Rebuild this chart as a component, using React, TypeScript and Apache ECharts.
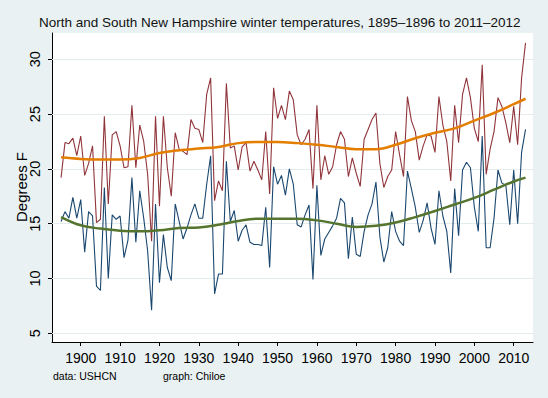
import React, { useEffect, useRef } from "react";
import * as echarts from "echarts";

const titleText = "North and South New Hampshire winter temperatures, 1895\u20131896 to 2011\u20132012";
const yAxisTitle = "Degrees F";
const noteData = "data: USHCN";
const noteGraph = "graph: Chiloe";

const firstYear = 1895;

// South NH winter mean temperature (deg F), 1895..2013
const southTemps = [
  19.2, 22.4, 22.3, 22.8, 21.2, 23.0, 19.4, 20.5, 22.1, 15.1,
  15.4, 24.8, 16.8, 23.1, 23.4, 22.1, 20.1, 20.2, 25.8, 20.1,
  24.0, 22.5, 19.5, 13.4, 24.8, 16.6, 24.8, 20.1, 17.5, 23.3,
  21.8, 21.6, 21.3, 24.5, 23.7, 23.6, 22.4, 26.8, 28.3, 17.1,
  18.9, 18.0, 27.8, 21.9, 22.1, 19.9, 22.0, 22.4, 19.8, 20.7,
  19.9, 19.0, 23.4, 17.7, 27.4, 24.6, 25.8, 24.5, 27.1, 26.3,
  23.1, 22.2, 22.7, 23.6, 18.2, 25.8, 19.0, 21.2, 19.5, 20.2,
  22.2, 23.4, 22.7, 19.3, 21.0, 19.6, 18.4, 22.7, 23.6, 24.5,
  25.1, 20.5, 18.3, 19.3, 19.9, 23.4, 21.3, 19.3, 26.6, 24.4,
  23.4, 20.8, 22.1, 23.1, 23.0, 21.5, 26.6, 24.0, 22.5, 18.9,
  25.8, 22.4, 26.8, 28.3, 26.5, 23.7, 22.5, 29.5, 19.5, 21.8,
  23.4, 26.5, 25.7, 24.2, 22.4, 25.7, 22.2, 28.3, 31.5,
];

// North NH winter mean temperature (deg F), 1895..2013
const northTemps = [
  15.2, 16.1, 15.5, 17.4, 15.5, 17.2, 12.4, 16.1, 15.7, 9.3,
  8.9, 18.3, 10.0, 15.8, 15.4, 15.7, 11.9, 13.5, 19.2, 13.3,
  18.0, 15.5, 12.5, 7.1, 16.8, 9.6, 14.0, 11.0, 9.8, 16.8,
  15.2, 13.6, 14.6, 15.8, 16.8, 15.5, 15.5, 18.6, 21.2, 8.6,
  10.4, 10.4, 20.7, 15.2, 16.2, 13.4, 14.4, 14.9, 13.3, 13.1,
  13.1, 13.0, 16.5, 11.0, 20.2, 18.6, 19.4, 17.6, 20.0, 18.6,
  14.9, 14.7, 15.8, 16.7, 9.9, 18.5, 12.1, 13.6, 14.2, 14.8,
  15.5, 17.3, 16.9, 11.8, 15.6, 12.2, 12.0, 14.3, 15.8, 16.8,
  18.8, 13.8, 11.5, 12.8, 16.1, 14.3, 13.4, 13.0, 19.8, 18.2,
  16.5, 14.2, 15.3, 16.9, 14.6, 13.1, 18.0, 15.7, 14.3, 10.5,
  18.2, 13.9, 19.9, 20.6, 20.1, 16.5, 14.3, 23.0, 12.8, 12.8,
  15.5, 19.9, 18.7, 18.5, 14.9, 19.9, 15.0, 21.5, 23.6,
];

// Smoothed curves read at these years
const smoothYears = [
  1895, 1900, 1905, 1910, 1915, 1920, 1925, 1930, 1935, 1940, 1945, 1950,
  1955, 1960, 1965, 1970, 1975, 1980, 1985, 1990, 1995, 2000, 2005, 2010, 2013,
];
const southSmooth = [
  21.05, 20.9, 20.85, 20.85, 21.0, 21.45, 21.7, 21.85, 22.0, 22.35, 22.45, 22.45,
  22.35, 22.2, 22.0, 21.8, 21.8, 22.2, 22.8, 23.3, 23.7, 24.4, 25.1, 25.9, 26.4,
];
const northSmooth = [
  15.6, 14.85, 14.55, 14.35, 14.3, 14.4, 14.6, 14.65, 14.9, 15.25, 15.45, 15.45,
  15.45, 15.3, 15.0, 14.7, 14.8, 15.1, 15.6, 16.15, 16.75, 17.35, 18.1, 18.85, 19.2,
];

const yTicks = [5, 10, 15, 20, 25, 30];
const xTicks = [1900, 1910, 1920, 1930, 1940, 1950, 1960, 1970, 1980, 1990, 2000, 2010];

const FONT = '"Liberation Sans", Arial, Helvetica, sans-serif';

export default function App() {
  const ref = useRef<HTMLDivElement>(null);

  useEffect(() => {
    if (!ref.current) return;
    const chart = echarts.init(ref.current, null, { renderer: "svg" });
    const pairs = (vals: number[]) => vals.map((v, i) => [firstYear + i, v]);
    const smoothPairs = (vals: number[]) => vals.map((v, i) => [smoothYears[i], v]);

    chart.setOption({
      animation: false,
      backgroundColor: "#E9F1F3",
      title: {
        text: titleText,
        left: 39,
        top: 15,
        padding: 0,
        textStyle: { fontFamily: FONT, fontSize: 13.5, fontWeight: "normal", color: "#111" },
      },
      grid: {
        left: 52,
        right: 15,
        top: 33,
        bottom: 56,
        show: true,
        backgroundColor: "#ffffff",
        borderWidth: 0,
      },
      xAxis: {
        type: "value",
        min: 1892.7,
        max: 2014.9,
        axisLine: { show: true, onZero: false, lineStyle: { color: "#000", width: 1 } },
        axisTick: { show: true, length: 4, customValues: xTicks, lineStyle: { color: "#000" } },
        axisLabel: {
          customValues: xTicks,
          formatter: (v: number) => String(v),
          fontSize: 14,
          fontFamily: FONT,
          color: "#000",
          margin: 9,
        },
        splitLine: { show: false },
      },
      yAxis: {
        type: "value",
        min: 4.2,
        max: 32.4,
        axisLine: { show: true, onZero: false, lineStyle: { color: "#000", width: 1 } },
        axisTick: { show: true, length: 4, customValues: yTicks, lineStyle: { color: "#000" } },
        axisLabel: {
          customValues: yTicks,
          formatter: (v: number) => String(v),
          rotate: 90,
          fontSize: 14.5,
          fontFamily: FONT,
          color: "#000",
          margin: 10,
        },
        splitLine: { show: false },
      },
      graphic: [
        {
          type: "text",
          x: 21,
          y: 187,
          rotation: Math.PI / 2,
          style: {
            text: yAxisTitle,
            fontSize: 15,
            fontFamily: FONT,
            fill: "#000",
            align: "center",
            verticalAlign: "middle",
          },
        },
        {
          type: "text",
          x: 53,
          y: 370,
          style: { text: noteData, fontSize: 10.5, fontFamily: FONT, fill: "#000", verticalAlign: "top" },
        },
        {
          type: "text",
          x: 163,
          y: 370,
          style: { text: noteGraph, fontSize: 10.5, fontFamily: FONT, fill: "#000", verticalAlign: "top" },
        },
      ],
      series: [
        {
          type: "line",
          data: [],
          z: 1,
          markLine: {
            silent: true,
            z: 1,
            symbol: "none",
            label: { show: false },
            lineStyle: { color: "#E4ECEE", width: 1, type: "solid" },
            data: yTicks.map((v) => ({ yAxis: v })),
          },
        },
        {
          name: "South",
          type: "line",
          data: pairs(southTemps),
          showSymbol: false,
          symbol: "none",
          z: 2,
          lineStyle: { color: "#90353B", width: 1.1 },
          itemStyle: { color: "#90353B" },
        },
        {
          name: "North",
          type: "line",
          data: pairs(northTemps),
          showSymbol: false,
          symbol: "none",
          z: 2,
          lineStyle: { color: "#1A476F", width: 1.1 },
          itemStyle: { color: "#1A476F" },
        },
        {
          name: "South smooth",
          type: "line",
          data: smoothPairs(southSmooth),
          showSymbol: false,
          symbol: "none",
          smooth: 0.4,
          z: 3,
          lineStyle: { color: "#E37E00", width: 2.5 },
          itemStyle: { color: "#E37E00" },
        },
        {
          name: "North smooth",
          type: "line",
          data: smoothPairs(northSmooth),
          showSymbol: false,
          symbol: "none",
          smooth: 0.4,
          z: 3,
          lineStyle: { color: "#55752F", width: 2.5 },
          itemStyle: { color: "#55752F" },
        },
      ],
    });

    return () => chart.dispose();
  }, []);

  return (
    <div
      ref={ref}
      style={{ position: "absolute", left: 0, top: 0, width: 548, height: 398 }}
    />
  );
}
